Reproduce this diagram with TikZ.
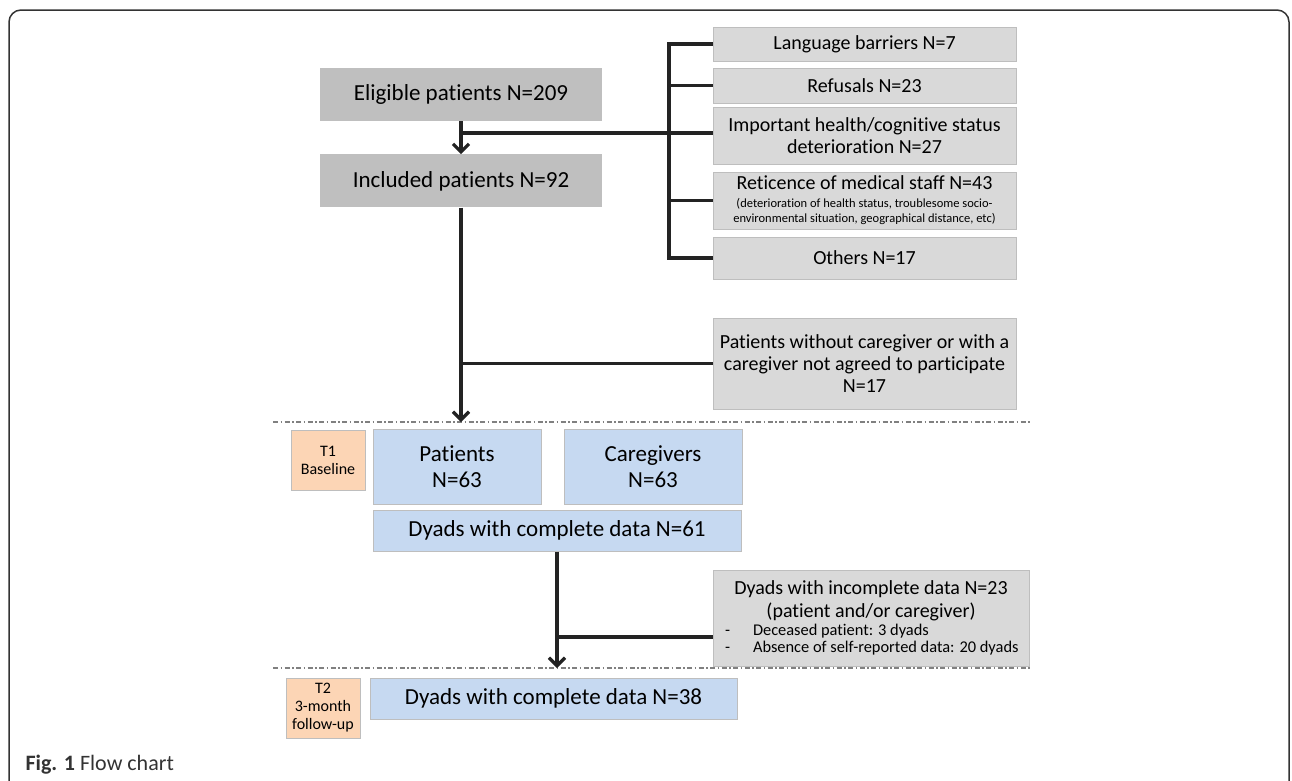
\documentclass[tikz,border=0pt]{standalone}
\usepackage{fontspec}
\setmainfont{Carlito}[Ligatures=NoCommon]
\usetikzlibrary{shapes,arrows.meta,positioning}

\definecolor{darkbox}{RGB}{191,191,191}
\definecolor{lightbox}{RGB}{217,217,217}
\definecolor{bluebox}{RGB}{198,217,241}
\definecolor{orangebox}{RGB}{252,213,181}
\definecolor{boxedge}{RGB}{190,190,190}
\definecolor{linecol}{RGB}{35,35,35}

\tikzstyle{mainbox} =
        [
                rectangle,
                fill = darkbox,
                align = center,
                minimum width = 282pt,
                minimum height = 53pt,
                font = \fontsize{23}{26}\selectfont
        ]
\tikzstyle{exclbox} =
        [
                rectangle,
                draw = boxedge,
                line width = 1pt,
                fill = lightbox,
                align = center,
                inner xsep = 4pt,
                minimum width = 303pt,
                font = \fontsize{20}{22}\selectfont
        ]
\tikzstyle{studybox} =
        [
                rectangle,
                draw = boxedge,
                line width = 1pt,
                fill = bluebox,
                align = center,
                minimum height = 41pt,
                font = \fontsize{23}{26}\selectfont
        ]
\tikzstyle{timebox} =
        [
                rectangle,
                draw = boxedge,
                line width = 1pt,
                fill = orangebox,
                align = center,
                minimum width = 74pt,
                minimum height = 60pt,
                font = \fontsize{16}{19}\selectfont
        ]
\tikzstyle{line} =
        [
                line width = 3.3pt,
                draw = linecol
        ]
\tikzstyle{arrow} =
        [
                line,
                -{Straight Barb[length=8pt,width=16pt]}
        ]
\tikzstyle{period} =
        [
                line width = 1.2pt,
                draw = gray,
                dash pattern = on 5pt off 2.5pt on 1.5pt off 2.5pt
        ]

\begin{document}
\begin{tikzpicture}[x=1pt, y=-1pt]
    \useasboundingbox (0,0) rectangle (1292,780);
    \clip (0,0) rectangle (1292,780);
    \draw [line width=1.5pt, draw=black!80, rounded corners=12pt] (9,800) -- (9,10) -- (1289,10) -- (1289,800);

    % screening
    \node [mainbox] (eligible) at (461,94.5) {Eligible patients N=209};
    \node [mainbox, below=33pt of eligible] (included) {Included patients N=92};

    % reasons for exclusion
    \node [exclbox, minimum height=34pt] (language) at (864.5,44) {Language barriers N=7};
    \node [exclbox, minimum height=35pt] (refusals) at (864.5,85.5) {Refusals N=23};
    \node [exclbox, minimum height=57pt] (health) at (864.5,136)
        {Important health/cognitive status\\ deterioration N=27};
    \node [exclbox, minimum height=57pt] (reticence) at (864.5,200.5)
        {Reticence of medical staff N=43\\[-4pt]
         {\fontsize{12.5}{15}\selectfont (deterioration of health status, troublesome socio-}\\[-7pt]
         {\fontsize{12.5}{15}\selectfont environmental situation, geographical distance, etc)}};
    \node [exclbox, minimum height=42pt] (others) at (864.5,258) {Others N=17};
    \node [exclbox, minimum height=91pt] (nocare) at (864.5,363.5)
        {Patients without caregiver or with a\\ caregiver not agreed to participate\\ N=17};

    % T1
    \coordinate (t1l) at (273,422);
    \coordinate (t1r) at (1030,422);
    \node [timebox] (baseline) at (328,460) {T1\\[-1pt] Baseline};
    \node [studybox, minimum width=168pt, minimum height=75pt] (patients) at (457,466.5) {Patients\\ N=63};
    \node [studybox, minimum width=178pt, minimum height=75pt, right=22pt of patients] (caregivers) {Caregivers\\ N=63};
    \node [studybox, minimum width=368pt] (dyadsbase) at (557,530.5) {Dyads with complete data N=61};
    \node [exclbox, minimum width=316pt, minimum height=96pt, font=\fontsize{20}{23}\selectfont] (incomplete) at (871,618)
        {Dyads with incomplete data N=23\\ (patient and/or caregiver)\\[-5pt]
         {\fontsize{16.4}{17}\selectfont\makebox[300pt][l]{\hspace*{4pt}\makebox[28pt][l]{-}Deceased patient: 3 dyads}}\\[-6pt]
         {\fontsize{16.4}{17}\selectfont\makebox[300pt][l]{\hspace*{4pt}\makebox[28pt][l]{-}Absence of self-reported data: 20 dyads}}};

    % T2
    \coordinate (t2l) at (273,668);
    \coordinate (t2r) at (1030,668);
    \coordinate (split) at (0,637);
    \node [timebox] (followup) at (323,708) {T2\\[-1pt] 3-month\\[-1pt] follow-up};
    \node [studybox, minimum width=367pt] (dyadsfollow) at (553.5,698.5) {Dyads with complete data N=38};

    \coordinate (brk) at (669,0);
    \path [period] (t1l) -- (t1r);
    \path [period] (t2l) -- (t2r);
    \path [arrow] (eligible) -- (included);
    \path [line] (eligible.south |- 0,133) -- (brk |- 0,133);
    \path [line] (language.west) -- (language.west -| brk) -- (others.west -| brk) -- (others.west);
    \path [line] (refusals.west) -- (refusals.west -| brk);
    \path [line] (health.west |- 0,133) -- (brk |- 0,133);
    \path [line] (reticence.west) -- (reticence.west -| brk);
    \path [arrow] (included.south) -- (included.south |- t1l);
    \path [line] (included.south |- nocare.west) -- (nocare.west);
    \path [arrow] (dyadsbase.south) -- (dyadsbase.south |- t2l);
    \path [line] (dyadsbase.south |- split) -- (incomplete.west |- split);

    \node [anchor=west, text=black!80, font=\fontsize{22}{24}\selectfont] (caption) at (22,765) {\textbf{Fig. 1} Flow chart};
\end{tikzpicture}
\end{document}
